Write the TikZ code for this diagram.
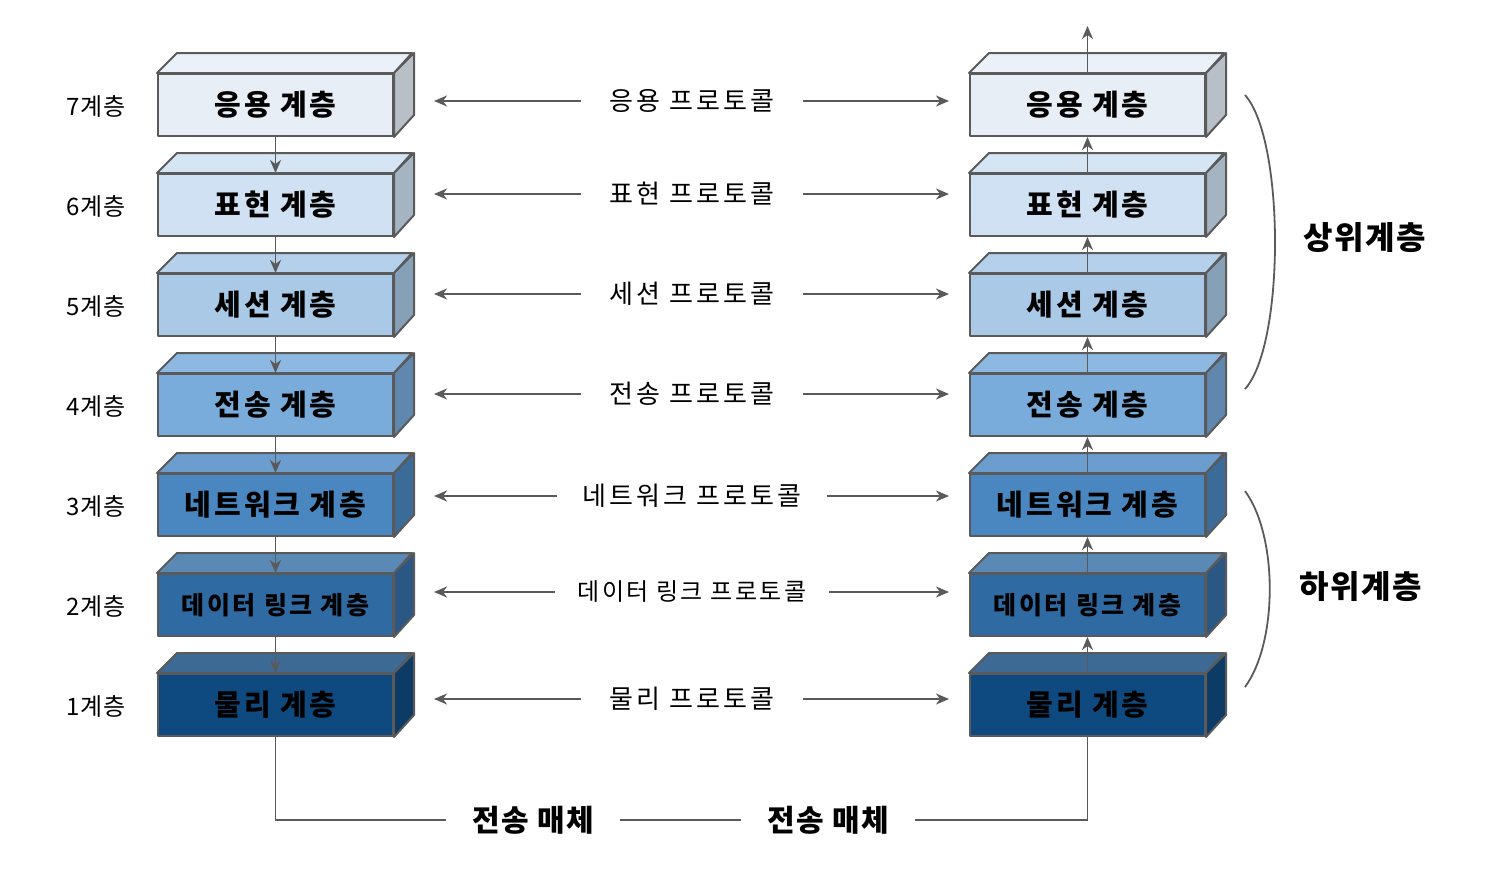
\documentclass[tikz,border=0pt]{standalone}
\usepackage{fontspec}
\newfontfamily\kr{Noto Sans CJK KR}
\usetikzlibrary{arrows.meta,calc}
\definecolor{lc}{HTML}{5A5A5A}
\definecolor{fa}{HTML}{E8EEF6}\definecolor{ta}{HTML}{EAF1F9}\definecolor{sa}{HTML}{B8BFC7}
\definecolor{fb}{HTML}{CFE1F2}\definecolor{tb}{HTML}{D5E5F4}\definecolor{sb}{HTML}{A4B4C2}
\definecolor{fc}{HTML}{A9C9E7}\definecolor{tc}{HTML}{B4D0EB}\definecolor{sc}{HTML}{86A0B8}
\definecolor{fd}{HTML}{79ABDB}\definecolor{td}{HTML}{8DB8E1}\definecolor{sd}{HTML}{6088AF}
\definecolor{fe}{HTML}{4A87C0}\definecolor{te}{HTML}{6B9DCE}\definecolor{se}{HTML}{3B6C99}
\definecolor{ff}{HTML}{2F6AA3}\definecolor{tf}{HTML}{5A89B5}\definecolor{sf}{HTML}{2A5784}
\definecolor{fg}{HTML}{0E4A80}\definecolor{tg}{HTML}{3D6A95}\definecolor{sg}{HTML}{0C3B66}
\newcommand\krf[3]{\kr#1\fontsize{#2}{#2}\selectfont\addfontfeatures{LetterSpace=#3}}
\tikzset{
  boxline/.style={draw=lc, line width=2pt, line join=round},
  layerbox/.style={boxline, minimum width=235pt, minimum height=62pt, inner sep=0pt, text=black},
  conn/.style={draw=lc, line width=1.8pt, -{Stealth[length=13pt,width=11pt,inset=4pt]}},
  plain/.style={draw=lc, line width=1.8pt},
  proto/.style={font=\krf{}{26}{12}, inner xsep=28pt, inner ysep=4pt},
  lvl/.style={font=\krf{}{24}{3}, inner sep=0pt},
  big/.style={font=\krf{\bfseries}{32}{5}, inner sep=0pt},
  medium/.style={font=\krf{\bfseries}{30}{5}, inner xsep=26pt, inner ysep=2pt},
}
\newcommand\mklayer[8]{%
  \node[layerbox, fill=#4, font=\krf{\bfseries}{#7}{10}] (#1) at (#2,#3) {#8};
  \draw[boxline, fill=#5] (#1.north west) -- ++(20,-20) -- ++(235,0) -- (#1.north east) -- cycle;
  \draw[boxline, fill=#6] (#1.north east) -- ++(20,-20) -- ++(0,62) -- (#1.south east) -- cycle;
}
\begin{document}
\begin{tikzpicture}[x=1pt,y=-1pt]
\useasboundingbox (0,0) rectangle (1488,879);
% left stack
\mklayer{L7}{275.5}{105}{fa}{ta}{sa}{29}{응용 계층}
\mklayer{L6}{275.5}{205}{fb}{tb}{sb}{29}{표현 계층}
\mklayer{L5}{275.5}{305}{fc}{tc}{sc}{29}{세션 계층}
\mklayer{L4}{275.5}{405}{fd}{td}{sd}{29}{전송 계층}
\mklayer{L3}{275.5}{505}{fe}{te}{se}{29}{네트워크 계층}
\mklayer{L2}{275.5}{605}{ff}{tf}{sf}{25}{데이터 링크 계층}
\mklayer{L1}{275.5}{705}{fg}{tg}{sg}{29}{물리 계층}
% right stack
\mklayer{R7}{1087.5}{105}{fa}{ta}{sa}{29}{응용 계층}
\mklayer{R6}{1087.5}{205}{fb}{tb}{sb}{29}{표현 계층}
\mklayer{R5}{1087.5}{305}{fc}{tc}{sc}{29}{세션 계층}
\mklayer{R4}{1087.5}{405}{fd}{td}{sd}{29}{전송 계층}
\mklayer{R3}{1087.5}{505}{fe}{te}{se}{29}{네트워크 계층}
\mklayer{R2}{1087.5}{605}{ff}{tf}{sf}{25}{데이터 링크 계층}
\mklayer{R1}{1087.5}{705}{fg}{tg}{sg}{29}{물리 계층}
% vertical flow
\draw[conn] (L7.south) -- (L6.north);
\draw[conn] (L6.south) -- (L5.north);
\draw[conn] (L5.south) -- (L4.north);
\draw[conn] (L4.south) -- (L3.north);
\draw[conn] (L3.south) -- (L2.north);
\draw[conn] (L2.south) -- (L1.north);
\draw[conn] (R1.north) -- (R2.south);
\draw[conn] (R2.north) -- (R3.south);
\draw[conn] (R3.north) -- (R4.south);
\draw[conn] (R4.north) -- (R5.south);
\draw[conn] (R5.north) -- (R6.south);
\draw[conn] (R6.north) -- (R7.south);
\coordinate (top) at (1087.5,26);
\draw[conn] (R7.north) -- (top);
% level labels
\node[lvl] (n7) at (96,106) {7계층};
\node[lvl] (n6) at (96,206) {6계층};
\node[lvl] (n5) at (96,306) {5계층};
\node[lvl] (n4) at (96,406) {4계층};
\node[lvl] (n3) at (96,506) {3계층};
\node[lvl] (n2) at (96,606) {2계층};
\node[lvl] (n1) at (96,706) {1계층};
% protocols
\coordinate (la) at (434,0);
\coordinate (ra) at (949,0);
\node[proto] (P7) at (692,101) {응용 프로토콜};
\node[proto] (P6) at (692,194) {표현 프로토콜};
\node[proto] (P5) at (692,294) {세션 프로토콜};
\node[proto] (P4) at (692,394) {전송 프로토콜};
\node[proto, inner xsep=25pt] (P3) at (692,496) {네트워크 프로토콜};
\node[proto, inner xsep=22pt, font=\krf{}{24}{10}] (P2) at (692,592) {데이터 링크 프로토콜};
\node[proto] (P1) at (692,699) {물리 프로토콜};
\foreach \p in {P7,P6,P5,P4,P3,P2,P1}{
  \draw[conn] (\p.west) -- (\p.west -| la);
  \draw[conn] (\p.east) -- (\p.east -| ra);
}
% medium
\node[medium] (M1) at (533,820) {전송 매체};
\node[medium] (M2) at (828,820) {전송 매체};
\draw[plain] (L1.south) |- (M1.west);
\draw[plain] (M1.east) -- (M2.west);
\draw[plain] (M2.east) -| (R1.south);
% braces
\draw[plain] (1245,95) .. controls (1285,140) and (1285,345) .. (1245,389);
\draw[plain] (1245,491) .. controls (1278,536) and (1278,642) .. (1245,687);
\node[big] (U) at (1365,238) {상위계층};
\node[big] (D) at (1361,587) {하위계층};
\end{tikzpicture}
\end{document}
